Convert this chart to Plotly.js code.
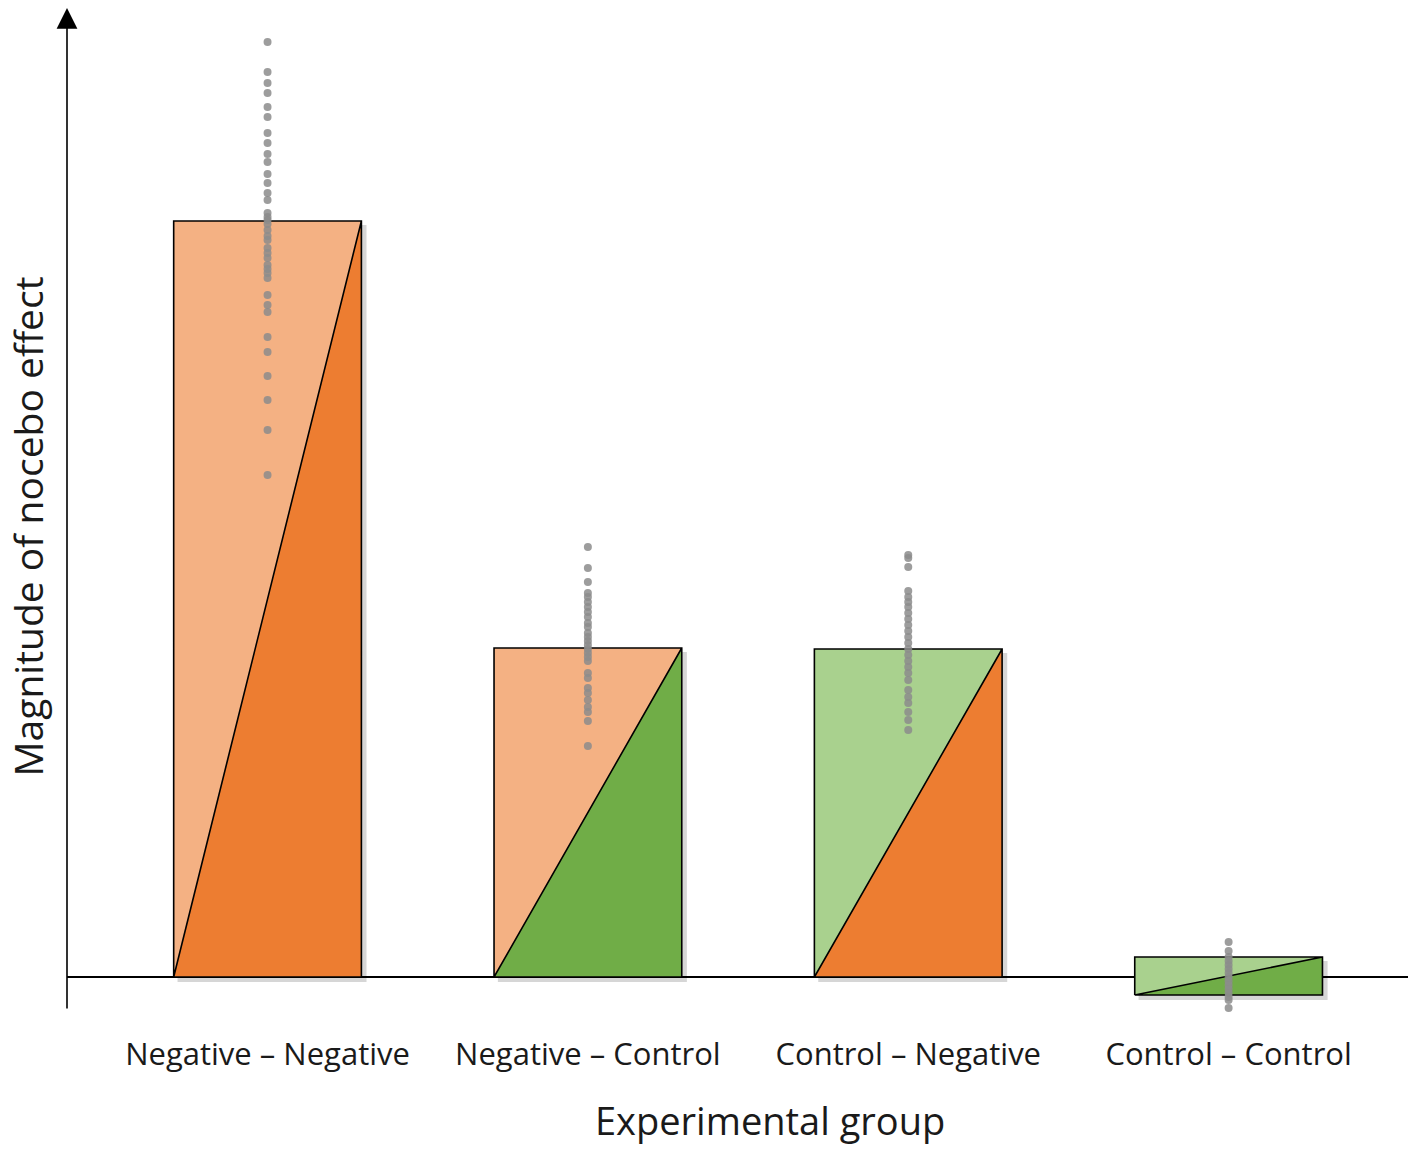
<!DOCTYPE html>
<html>
<head>
<meta charset="utf-8">
<script src="https://cdn.plot.ly/plotly-3.0.1.min.js"></script>
<style>html,body{margin:0;padding:0;background:#fff;}#chart{width:1417px;height:1151px;}</style>
</head>
<body>
<div id="chart"></div>
<script>
// ---- data ----
const categories = ["Negative – Negative", "Negative – Control", "Control – Negative", "Control – Control"];
const barTop = [7.56, 3.29, 3.28, 0.20];
const barBase = [0, 0, 0, -0.18];
const lightColors = ["#F4B183", "#F4B183", "#A9D18E", "#A9D18E"];
const darkColors = ["#ED7D31", "#70AD47", "#ED7D31", "#70AD47"];
const dots1 = [9.35, 9.05, 8.94, 8.84, 8.70, 8.60, 8.44, 8.34, 8.23, 8.15, 8.03, 7.94, 7.84, 7.77, 7.64, 7.60, 7.57, 7.53, 7.47, 7.41, 7.37, 7.29, 7.24, 7.19, 7.12, 7.08, 7.04, 6.99, 6.82, 6.72, 6.65, 6.40, 6.25, 6.01, 5.77, 5.47, 5.02];
const dots2 = [4.30, 4.09, 3.95, 3.84, 3.80, 3.75, 3.70, 3.65, 3.60, 3.54, 3.50, 3.44, 3.40, 3.36, 3.32, 3.28, 3.24, 3.20, 3.16, 3.04, 2.99, 2.89, 2.84, 2.77, 2.70, 2.65, 2.56, 2.31];
const dots3 = [4.22, 4.19, 4.10, 3.86, 3.80, 3.75, 3.70, 3.64, 3.58, 3.52, 3.46, 3.40, 3.34, 3.28, 3.22, 3.16, 3.10, 3.04, 2.97, 2.87, 2.80, 2.74, 2.65, 2.57, 2.47];
const dots4 = [0.35, 0.26, 0.20, 0.16, 0.12, 0.08, 0.04, 0.00, -0.04, -0.08, -0.12, -0.16, -0.20, -0.23, -0.31, -0.39];
const dotSets = [dots1, dots2, dots3, dots4];
const xTitle = "Experimental group";
const yTitle = "Magnitude of nocebo effect";

// ---- chart ----
const HW = 0.293;
const xRange = [-0.626, 3.56];
const yRange = [-0.33, 9.67];
const traces = [];
const shapes = [];
categories.forEach((c, i) => {
  const x0 = i - HW, x1 = i + HW, b = barBase[i], t = barTop[i];
  shapes.push({type: 'rect', layer: 'below', x0: x0 + 0.012, x1: x1 + 0.016, y0: b - 0.05, y1: t - 0.04,
    fillcolor: 'rgba(0,0,0,0.16)', line: {width: 0}});
  traces.push({x: [x0, x0, x1, x0], y: [b, t, t, b], mode: 'lines', fill: 'toself',
    fillcolor: lightColors[i], line: {width: 0}, hoverinfo: 'skip', showlegend: false});
  traces.push({x: [x0, x1, x1, x0], y: [b, t, b, b], mode: 'lines', fill: 'toself',
    fillcolor: darkColors[i], line: {width: 0}, hoverinfo: 'skip', showlegend: false});
  traces.push({x: [x0, x0, x1, x1, x0, x1], y: [b, t, t, b, b, t], mode: 'lines',
    line: {color: '#000', width: 1.6}, hoverinfo: 'skip', showlegend: false});
});
dotSets.forEach((d, i) => {
  traces.push({x: d.map(() => i), y: d, mode: 'markers', type: 'scatter', cliponaxis: false,
    marker: {color: 'rgba(140,140,140,0.85)', size: 8}, showlegend: false, name: categories[i]});
});

const layout = {
  width: 1417, height: 1151,
  margin: {l: 67, r: 9, t: 10, b: 141},
  paper_bgcolor: '#fff', plot_bgcolor: '#fff',
  font: {family: '"Open Sans", Lato, sans-serif', color: '#1a1a1a'},
  xaxis: {range: xRange, showgrid: false, zeroline: false, showline: false,
    tickvals: [0, 1, 2, 3], ticktext: categories, ticks: '', ticklabelstandoff: 23,
    tickfont: {size: 31, color: '#1a1a1a'}},
  yaxis: {range: yRange, showgrid: false, showline: false, showticklabels: false, ticks: '',
    zeroline: true, zerolinecolor: '#000', zerolinewidth: 1.5},
  shapes: shapes,
  annotations: [
    {x: xRange[0], y: yRange[1] + 0.02, ax: xRange[0], ay: yRange[0], xref: 'x', yref: 'y',
      axref: 'x', ayref: 'y', text: '', showarrow: true, arrowhead: 2, arrowsize: 2.6, arrowwidth: 1.6, arrowcolor: '#000'},
    {text: xTitle, xref: 'paper', yref: 'paper', x: 0.5242, y: -0.11, xanchor: 'center', yanchor: 'middle',
      showarrow: false, font: {size: 38, color: '#1a1a1a'}},
    {text: yTitle, xref: 'paper', yref: 'paper', x: -0.0298, y: 0.4835, xanchor: 'center', yanchor: 'middle',
      textangle: -90, showarrow: false, font: {size: 39, color: '#1a1a1a'}}
  ]
};
Plotly.newPlot('chart', traces, layout, {displayModeBar: false, staticPlot: true});
</script>
</body>
</html>
